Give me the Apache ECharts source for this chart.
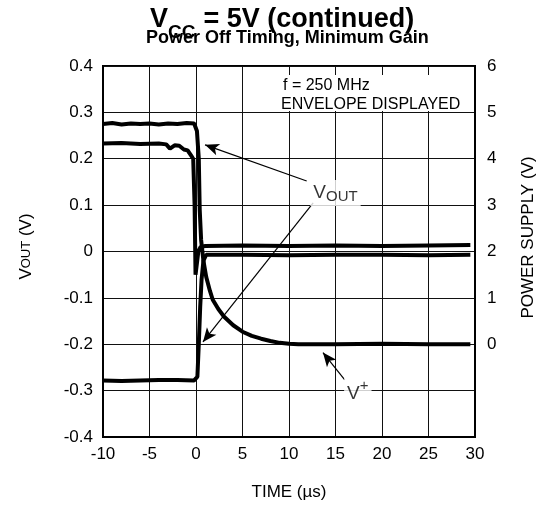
<!DOCTYPE html>
<html>
<head>
<meta charset="utf-8">
<script src="https://cdn.jsdelivr.net/npm/echarts@6/dist/echarts.min.js"></script>
<style>html,body{margin:0;padding:0;background:#fff}#c{width:538px;height:506px}</style>
</head>
<body>
<div id="c"></div>
<script>
// Time axis ticks (µs)
const timeTicks = [-10, -5, 0, 5, 10, 15, 20, 25, 30];
const voutTicks = [-0.4, -0.3, -0.2, -0.1, 0, 0.1, 0.2, 0.3, 0.4];
const supplyTicks = [0, 1, 2, 3, 4, 5, 6];

// V+ power supply (V, right axis): [time µs, volts]
const vPlus = [
  [-10, 4.75], [-9, 4.77], [-8, 4.74], [-7, 4.76], [-6, 4.75], [-5, 4.76], [-4, 4.74],
  [-3, 4.76], [-2, 4.75], [-1, 4.77], [-0.2, 4.76], [0.1, 4.6], [0.3, 4.0], [0.4, 2.9],
  [0.55, 2.25], [0.8, 1.8], [1.1, 1.45], [1.5, 1.15], [1.8, 0.96], [2.4, 0.76], [3, 0.6],
  [4, 0.41], [5, 0.27], [6, 0.18], [7, 0.12], [8, 0.07], [9, 0.03], [10, 0.01], [11, 0],
  [15, 0], [20, 0.01], [25, 0], [29.5, 0]
];

// VOUT upper envelope (V, left axis)
const voutUpper = [
  [-10, 0.233], [-8, 0.234], [-6, 0.232], [-4, 0.233], [-3.2, 0.231], [-2.8, 0.222],
  [-2.3, 0.229], [-1.8, 0.228], [-1.3, 0.220], [-0.9, 0.218], [-0.5, 0.206], [-0.3, 0.200],
  [-0.15, 0.10], [-0.05, -0.05], [0.1, -0.05], [0.25, 0.0], [0.5, 0.010], [1, 0.012],
  [5, 0.013], [10, 0.012], [15, 0.013], [20, 0.012], [25, 0.013], [29.5, 0.014]
];

// VOUT lower envelope (V, left axis)
const voutLower = [
  [-10, -0.278], [-8, -0.279], [-6, -0.278], [-4, -0.277], [-2, -0.277], [-0.2, -0.278],
  [0.15, -0.270], [0.3, -0.20], [0.45, -0.12], [0.6, -0.06], [0.8, -0.02], [1.1, -0.007],
  [5, -0.007], [10, -0.008], [15, -0.007], [20, -0.007], [25, -0.008], [29.5, -0.007]
];

// Annotation labels and arrows (data coordinates)
const voutLabelPos = [15.0, 0.126];
const vPlusLabelPos = [17.4, -0.306];
const voutArrows = [
  [[11.9, 0.152], [0.97, 0.23]],
  [[12.6, 0.105], [0.75, -0.195]]
];
const vPlusArrow = [[16.0, -0.277], [13.65, -0.218]];

const FONT = "'Liberation Sans', Arial, sans-serif";
const chart = echarts.init(document.getElementById('c'), null, {renderer: 'canvas'});

const arrowLines = voutArrows.concat([vPlusArrow]).map(a => [{coord: a[0]}, {coord: a[1]}]);

chart.setOption({
  animation: false,
  backgroundColor: '#fff',
  grid: {left: 103, top: 66, width: 372, height: 371, show: true, borderColor: '#000', borderWidth: 2,
    backgroundColor: 'transparent', outerBoundsMode: 'none', containLabel: false},
  graphic: [
    {type: 'text', left: 150, top: 6, style: {text: 'V', font: 'bold 27px ' + FONT, fill: '#000'}},
    {type: 'text', left: 168, top: 23, style: {text: 'CC', font: 'bold 19px ' + FONT, fill: '#000'}},
    {type: 'text', left: 196, top: 6, style: {text: ' = 5V (continued)', font: 'bold 27px ' + FONT, fill: '#000'}},
    {type: 'text', left: 146, top: 29, style: {text: 'Power Off Timing, Minimum Gain', font: 'bold 18px ' + FONT, fill: '#000'}},
    {type: 'rect', shape: {x: 277, y: 75, width: 195, height: 36}, style: {fill: '#fff'}, z: 5},
    {type: 'text', left: 283, top: 78, z: 6, style: {text: 'f = 250 MHz', font: '16px ' + FONT, fill: '#000'}},
    {type: 'text', left: 281, top: 97, z: 6, style: {text: 'ENVELOPE DISPLAYED', font: '16px ' + FONT, fill: '#000'}}
  ],
  xAxis: {
    type: 'value', min: -10, max: 30, interval: 5,
    name: 'TIME (µs)', nameLocation: 'middle', nameGap: 47,
    nameTextStyle: {fontFamily: FONT, fontSize: 17, color: '#000'},
    axisLine: {show: true, onZero: false, lineStyle: {color: '#000', width: 2}},
    axisTick: {show: false},
    axisLabel: {fontFamily: FONT, fontSize: 17, color: '#000', margin: 9,
      formatter: v => timeTicks.includes(v) ? String(v) : ''},
    splitLine: {show: true, lineStyle: {color: '#111', width: 1}}
  },
  yAxis: [
    {
      type: 'value', min: -0.4, max: 0.4, interval: 0.1, position: 'left',
      name: '{a|V}{b|OUT}{a| (V)}', nameLocation: 'middle', nameGap: 68, nameRotate: 90,
      nameTextStyle: {padding: [0, 0, 0, 10], rich: {a: {fontFamily: FONT, fontSize: 17, color: '#000'}, b: {fontFamily: FONT, fontSize: 13, color: '#000'}}},
      axisLine: {show: true, onZero: false, lineStyle: {color: '#000', width: 2}},
      axisTick: {show: false},
      axisLabel: {fontFamily: FONT, fontSize: 17, color: '#000', margin: 10,
        formatter: v => { const r = Math.round(v * 10) / 10; return voutTicks.includes(r) ? (r === 0 ? '0' : r.toFixed(1)) : ''; }},
      splitLine: {show: true, lineStyle: {color: '#111', width: 1}}
    },
    {
      type: 'value', min: -2, max: 6, interval: 1, position: 'right',
      name: 'POWER SUPPLY (V)', nameLocation: 'middle', nameGap: 45, nameRotate: 90,
      nameTextStyle: {fontFamily: FONT, fontSize: 17, color: '#000', padding: [0, 0, 0, 28]},
      axisLine: {show: true, onZero: false, lineStyle: {color: '#000', width: 2}},
      axisTick: {show: false},
      axisLabel: {fontFamily: FONT, fontSize: 17, color: '#000', margin: 12,
        formatter: v => supplyTicks.includes(v) ? String(v) : ''},
      splitLine: {show: false}
    }
  ],
  series: [
    {type: 'line', yAxisIndex: 1, data: vPlus, showSymbol: false, lineStyle: {color: '#000', width: 4}, z: 3},
    {type: 'line', yAxisIndex: 0, data: voutUpper, showSymbol: false, lineStyle: {color: '#000', width: 4}, z: 3},
    {type: 'line', yAxisIndex: 0, data: voutLower, showSymbol: false, lineStyle: {color: '#000', width: 4}, z: 3},
    {
      type: 'line', yAxisIndex: 0, data: [], z: 4,
      markLine: {
        silent: true, symbol: ['none', 'arrow'], symbolSize: [9, 14],
        lineStyle: {color: '#000', width: 1.2, type: 'solid'}, label: {show: false},
        data: arrowLines
      }
    },
    {
      type: 'scatter', yAxisIndex: 0, symbolSize: 0, z: 6,
      data: [
        {value: voutLabelPos, label: {formatter: '{a|V}{b|OUT}'}},
        {value: vPlusLabelPos, label: {formatter: '{a|V}{s|+}'}}
      ],
      label: {
        show: true, position: 'inside', backgroundColor: '#fff', padding: [2, 3, 2, 3],
        rich: {
          a: {fontFamily: FONT, fontSize: 19, color: '#000'},
          b: {fontFamily: FONT, fontSize: 15, color: '#000', verticalAlign: 'bottom', lineHeight: 22},
          s: {fontFamily: FONT, fontSize: 15, color: '#000', verticalAlign: 'top', lineHeight: 30}
        }
      }
    }
  ]
});
</script>
</body>
</html>
